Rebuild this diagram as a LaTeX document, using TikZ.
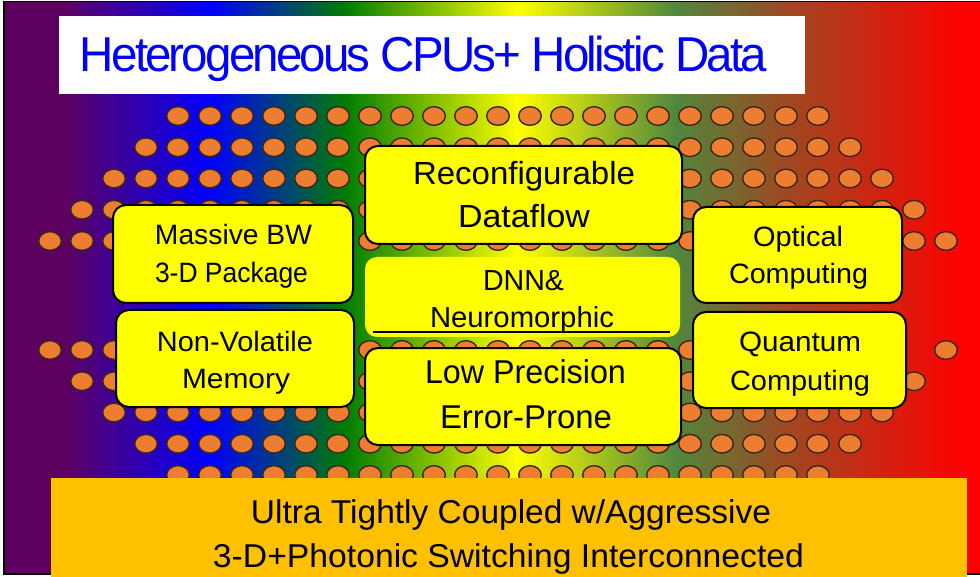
\documentclass[tikz,border=0pt]{standalone}
\usepackage{fontspec}
\usepackage{graphicx}
\setmainfont{Liberation Sans}
\newfontfamily\titlefont[LetterSpace=-6]{Liberation Sans}

% rainbow background stops
\definecolor{cPurple}{RGB}{94,0,96}
\definecolor{cBlue}{RGB}{0,0,255}
\definecolor{cGreen}{RGB}{0,125,0}
\definecolor{cYellow}{RGB}{255,255,0}
\definecolor{cOlive}{RGB}{80,135,60}
\definecolor{cBrown}{RGB}{155,75,35}
\definecolor{cRed}{RGB}{255,0,0}
% element colours
\definecolor{boxyellow}{RGB}{255,255,0}
\definecolor{baseorange}{RGB}{255,192,0}
\definecolor{ballfill}{RGB}{237,125,49}
\definecolor{ballrim}{RGB}{60,40,25}
\definecolor{titleblue}{RGB}{0,0,255}

% text set at a given size and stretched to a given width
\newcommand{\fitw}[3]{\resizebox{#1pt}{\height}{\fontsize{#2}{#2}\selectfont #3}}

\tikzset{
  cardbox/.style={draw=black, line width=2pt, fill=boxyellow, rounded corners=13pt, inner sep=0pt},
  softbox/.style={fill=boxyellow, rounded corners=12pt, inner sep=0pt},
  txt/.style={inner sep=0pt, anchor=base, text=black},
  ball/.style={fill=ballfill, draw=ballrim, line width=1.4pt},
}

\begin{document}
\begin{tikzpicture}[x=1pt, y=-1pt]
\useasboundingbox (0,0) rectangle (980,577);
\clip (0,0) rectangle (980,577);
\fill[white] (0,0) rectangle (980,577);

% horizontal rainbow field
\foreach \xa/\xb/\ca/\cb in {4/66/cPurple/cPurple, 65/211/cPurple/cBlue,
    210/346/cBlue/cGreen, 345/518/cGreen/cYellow, 517/676/cYellow/cOlive,
    675/781/cOlive/cBrown, 780/966/cBrown/cRed, 965/996/cRed/cRed}
  \shade[left color=\ca, right color=\cb] (\xa,1.5) rectangle (\xb,574);
\draw[line width=1.5pt] (4,1.5) rectangle (996,574);

% solder-ball array, upper half
\foreach \r/\ka/\kb in {0/4/24, 1/3/25, 2/2/26, 3/1/27, 4/0/28}
  \foreach \k in {\ka,...,\kb}
    \path[ball] ({50+32*\k},{116+31.25*\r}) ellipse [x radius=11.3, y radius=9.3];
% solder-ball array, lower half
\foreach \r/\ka/\kb in {0/0/26, 1/1/27, 2/2/26, 3/3/25, 4/4/24}
  \foreach \k in {\ka,...,\kb}
    \path[ball] ({50+32*\k},{350+31.25*\r}) ellipse [x radius=11.3, y radius=9.3];
\path[ball] ({50+32*28},350) ellipse [x radius=11.3, y radius=9.3];

% title banner
\node[fill=white, inner sep=0pt, minimum width=746pt, minimum height=78pt] (titlebox) at (432,55) {};
\node[txt, text=titleblue] (title) at (423.5,72) {\fitw{687}{49}{\titlefont Heterogeneous CPUs+ Holistic Data}};

% left column
\node[cardbox, minimum width=240pt, minimum height=98pt] (bw) at (233,254) {};
\node[txt] (bw1) at (233.5,245) {\fitw{157}{28}{Massive BW}};
\node[txt] (bw2) at (231.5,283) {\fitw{153}{28}{3-D Package}};

\node[cardbox, minimum width=238pt, minimum height=97pt] (nvm) at (235,358.5) {};
\node[txt] (nvm1) at (235,352) {\fitw{156}{28}{Non-Volatile}};
\node[txt] (nvm2) at (236,388) {\fitw{108}{28}{Memory}};

% centre column
\node[cardbox, minimum width=317pt, minimum height=98pt] (rdf) at (523.5,195) {};
\node[txt] (rdf1) at (524,185) {\fitw{222}{32}{Reconfigurable}};
\node[txt] (rdf2) at (524,228) {\fitw{132}{32}{Dataflow}};

\node[softbox, minimum width=315pt, minimum height=80pt] (dnn) at (522.5,297) {};
\node[txt] (dnn1) at (523.5,291) {\fitw{81}{29}{DNN\&}};
\node[txt] (dnn2) at (522,328) {\fitw{184}{29}{Neuromorphic}};
\coordinate (ulL) at (373,332);
\coordinate (ulR) at (670,332);
\draw[line width=2pt] (ulL) -- (ulR);

\node[cardbox, minimum width=316pt, minimum height=97pt] (lpe) at (523,396.5) {};
\node[txt] (lpe1) at (525.5,383) {\fitw{201}{33}{Low Precision}};
\node[txt] (lpe2) at (526,428) {\fitw{172}{33}{Error-Prone}};

% right column
\node[cardbox, minimum width=209pt, minimum height=96pt] (opt) at (797.5,255) {};
\node[txt] (opt1) at (798,247) {\fitw{90}{28}{Optical}};
\node[txt] (opt2) at (798.5,284) {\fitw{139}{28}{Computing}};

\node[cardbox, minimum width=213pt, minimum height=96pt] (qc) at (799.5,360) {};
\node[txt] (qc1) at (800,352) {\fitw{122}{28}{Quantum}};
\node[txt] (qc2) at (800,390) {\fitw{140}{28}{Computing}};

% interconnect base
\node[fill=baseorange, inner sep=0pt, minimum width=916pt, minimum height=104pt] (base) at (509,530) {};
\node[txt] (base1) at (511,523) {\fitw{520}{33}{Ultra Tightly Coupled w/Aggressive}};
\node[txt] (base2) at (508.5,567) {\fitw{591}{33}{3-D+Photonic Switching Interconnected}};
\end{tikzpicture}
\end{document}
